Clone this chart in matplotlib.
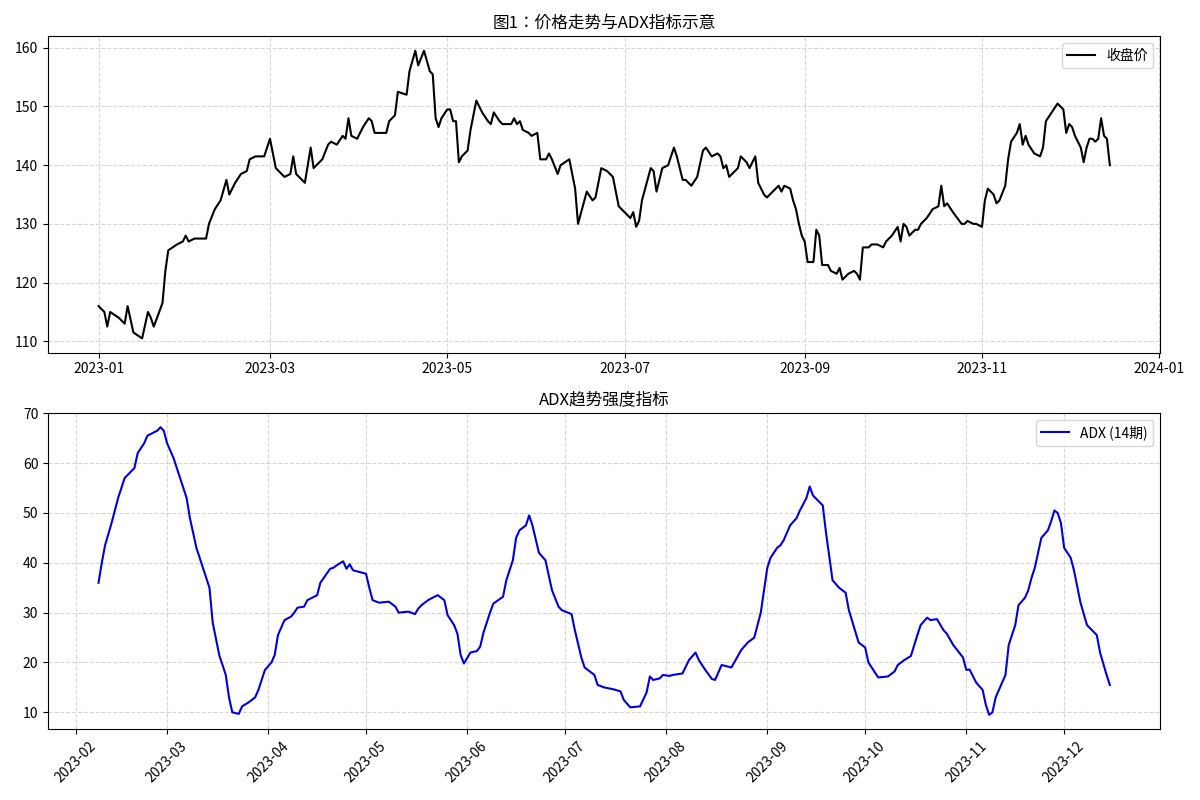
import matplotlib
matplotlib.use("Agg")
import matplotlib.pyplot as plt
import matplotlib.dates as mdates
from matplotlib import font_manager
import glob
import pandas as pd

# register any CJK font files explicitly
for pat in ["/usr/share/fonts/**/*CJK*", "/usr/share/fonts/**/*cjk*", "/usr/local/share/fonts/**/*CJK*"]:
    for f in glob.glob(pat, recursive=True):
        try:
            font_manager.fontManager.addfont(f)
        except Exception:
            pass
cjk = [f.name for f in font_manager.fontManager.ttflist if "CJK" in f.name]
pref = [n for n in ["Noto Sans CJK SC", "Noto Sans CJK JP", "Noto Sans CJK TC", "Noto Sans CJK KR"] if n in cjk] + cjk
plt.rcParams["font.family"] = "sans-serif"
plt.rcParams["font.sans-serif"] = pref[:1] + ["DejaVu Sans"]
plt.rcParams["axes.unicode_minus"] = False

# Close price: day offset from 2023-01-01 and value
price_days = [0,2,3,4,7,9,10,12,15,17,18,19,22,23,24,27,29,30,31,33,35,37,38,40,42,44,45,47,49,51,52,54,57,59,61,64,66,67,68,71,73,74,77,79,80,82,84,85,86,87,89,91,93,94,95,97,99,100,102,103,106,107,109,110,112,114,115,116,117,118,120,121,122,123,124,125,127,128,130,132,134,135,136,138,139,142,143,144,145,146,148,149,151,152,154,155,156,158,159,162,164,165,168,170,171,173,175,177,179,183,184,185,186,187,190,191,192,194,196,198,199,201,202,204,206,208,209,211,213,214,215,216,217,218,220,221,222,223,224,226,227,229,230,232,234,235,236,238,239,240,241,242,243,244,246,247,248,249,251,252,254,255,256,258,260,261,262,263,265,266,268,270,271,273,275,276,277,278,279,281,282,283,285,287,289,290,291,292,294,297,298,299,301,302,304,305,306,308,309,310,312,313,314,316,317,318,319,320,322,324,325,326,328,330,332,333,334,335,336,338,339,340,341,342,343,344,345,346,347,348]
price_vals = [116,115,112.5,115,114,113,116,111.5,110.5,115,114,112.5,116.5,122,125.5,126.5,127,128,127,127.5,127.5,127.5,130,132.5,134,137.5,135,137,138.5,139,141,141.5,141.5,144.5,139.5,138,138.5,141.5,138.5,137,143,139.5,141,143.5,144,143.5,145,144.5,148,145,144.5,146.5,148,147.5,145.5,145.5,145.5,147.5,148.5,152.5,152,156,159.5,157,159.5,156,155.5,148,146.5,148,149.5,149.5,147.5,147.5,140.5,141.5,142.5,146,151,149,147.5,147,149,147.5,147,147,148,147,147.5,146,145.5,145,145.5,141,141,142,141,138.5,140,141,136,130,135.5,134,134.5,139.5,139,138,133,131,132,129.5,130.5,134,139.5,139,135.5,139.5,140,143,141.5,137.5,137.5,136.5,138,142.5,143,141.5,142,141.5,139.5,140,138,138.5,139.5,141.5,141,140.5,139.5,141.5,137,135,134.5,135.5,136.5,135.5,136.5,136,134,132.5,130,128,127,123.5,123.5,129,128,123,123,122,121.5,122.5,120.5,121.5,122,121.5,120.5,126,126,126.5,126.5,126,127,128,129.5,127,130,129.5,128,129,129,130,131,132.5,133,136.5,133,133.5,132,130,130,130.5,130,130,129.5,134,136,135,133.5,134,136.5,141,144,145.5,147,143.5,145,143.5,142,141.5,143,147.5,149,150.5,149.5,145.5,147,146.5,145,143,140.5,143,144.5,144.5,144,144.5,148,145,144.5,140]

# ADX: day offset from 2023-01-01 and value
adx_days = [38,39,40,42,44,45,46,49,50,52,53,56,57,58,59,61,63,65,66,68,70,72,73,75,77,78,79,81,82,84,86,87,89,91,92,93,95,97,98,99,101,102,105,106,109,110,111,113,114,115,116,120,121,122,124,127,129,130,133,135,136,137,139,141,142,144,145,147,148,149,150,152,154,155,156,158,159,162,163,165,166,167,169,170,171,173,175,177,179,180,183,184,186,187,190,191,193,196,198,199,201,204,206,207,208,210,211,213,214,217,219,221,222,224,226,227,229,232,235,237,239,241,243,244,246,247,248,250,252,253,255,256,257,260,261,263,265,267,268,271,273,274,277,280,282,283,285,287,289,290,292,293,295,297,298,300,303,304,305,307,309,310,311,312,313,315,316,317,319,320,322,323,324,325,327,329,330,331,332,333,334,336,337,339,341,344,345,347,348]
adx_vals = [36,40,43.5,48,53,55,57,59,62,64,65.5,66.5,67.2,66.5,64,61,57,53,49,43,39,35,28,21.5,17.5,13,10,9.7,11.2,12,13,14.5,18.5,20,21.5,25.5,28.5,29.2,30,31,31.2,32.5,33.5,36,38.8,39,39.5,40.3,38.8,39.7,38.5,37.8,35,32.5,32,32.2,31.2,30,30.2,29.7,30.8,31.5,32.5,33.2,33.5,32.5,29.5,27.5,25.8,21.5,19.8,22,22.3,23.2,26,30,31.8,33.2,36.5,40.5,45,46.5,47.5,49.5,47.5,42,40.5,34.5,31.2,30.5,29.7,26.5,21,19,17.5,15.5,15,14.6,14.2,12.5,11,11.2,14,17.2,16.5,16.8,17.5,17.3,17.5,17.8,20.5,22,20.5,18.5,16.7,16.5,19.5,19,22.5,24,25,30,39,41,43,43.5,44.5,47.5,49,50.5,53,55.3,53.5,51.5,46,36.5,35,34,30.5,24,23,20,17,17.2,18.2,19.5,20.5,21.3,25.5,27.5,29,28.5,28.7,26.5,25.8,23.5,21,18.5,18.6,16,14.5,11.5,9.5,10,13,16,17.5,23.5,27.5,31.5,33,34.5,37,39,45,46.5,48.3,50.5,50,48,43,41,38.5,32,27.5,25.5,22,17.5,15.5]

base = pd.Timestamp("2023-01-01")
pdates = [base + pd.Timedelta(days=d) for d in price_days]
adates = [base + pd.Timedelta(days=d) for d in adx_days]

fig, (ax1, ax2) = plt.subplots(2, 1, figsize=(12, 8), dpi=100)

ax1.plot(pdates, price_vals, color="black", lw=1.5, label="收盘价")
ax1.set_title("图1：价格走势与ADX指标示意", fontsize=12)
ax1.grid(True, linestyle="--", alpha=0.5)
ax1.legend(loc="upper right")
ax1.xaxis.set_major_locator(mdates.MonthLocator(bymonth=[1, 3, 5, 7, 9, 11]))
ax1.xaxis.set_major_formatter(mdates.DateFormatter("%Y-%m"))

ax2.plot(adates, adx_vals, color="#0000dd", lw=1.5, label="ADX (14期)")
ax2.set_title("ADX趋势强度指标", fontsize=12)
ax2.grid(True, linestyle="--", alpha=0.5)
ax2.legend(loc="upper right")
ax2.set_yticks([10, 20, 30, 40, 50, 60, 70])
ax2.xaxis.set_major_locator(mdates.MonthLocator())
ax2.xaxis.set_major_formatter(mdates.DateFormatter("%Y-%m"))
plt.setp(ax2.get_xticklabels(), rotation=45)

fig.tight_layout()
fig.savefig("out.png", dpi=100)
